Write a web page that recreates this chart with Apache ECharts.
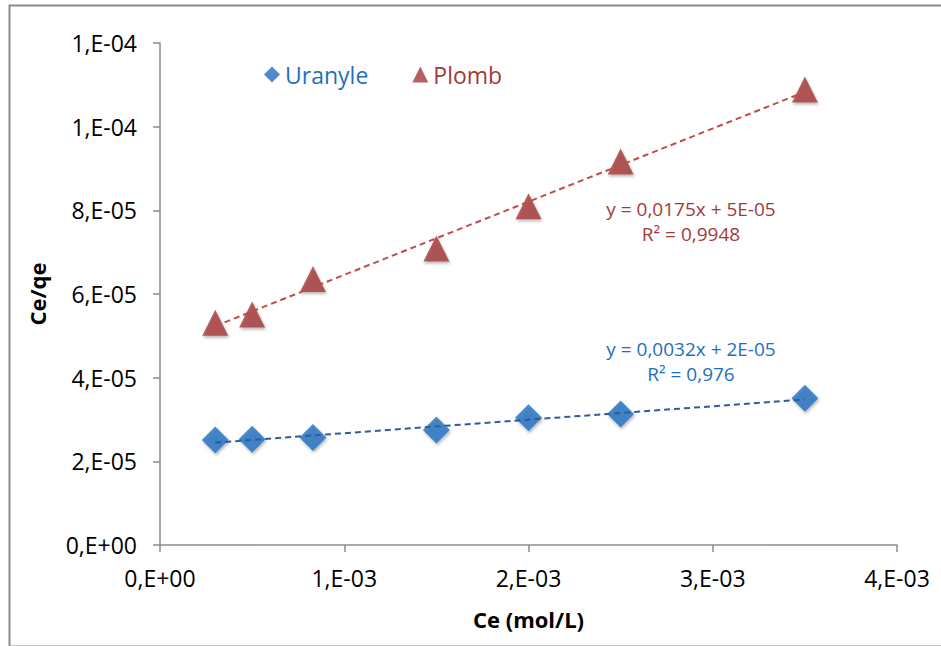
<!DOCTYPE html>
<html>
<head>
<meta charset="utf-8">
<script src="https://cdn.jsdelivr.net/npm/echarts@6/dist/echarts.min.js"></script>
<style>
  html, body { margin: 0; padding: 0; background: #fff; }
  #chart { width: 941px; height: 646px; }
</style>
</head>
<body>
<div id="chart"></div>
<script>
// Ce (mol/L) values, shared by both series
var ceValues = [0.0003, 0.0005, 0.00083, 0.0015, 0.002, 0.0025, 0.0035];
// Ce/qe values
var uranyleValues = [2.51e-5, 2.53e-5, 2.57e-5, 2.75e-5, 3.04e-5, 3.13e-5, 3.51e-5];
var plombValues = [5.31e-5, 5.51e-5, 6.36e-5, 7.09e-5, 8.10e-5, 9.17e-5, 1.089e-4];
var seriesNames = ['Uranyle', 'Plomb'];
var equationLabels = [
  ['y = 0,0032x + 2E-05', 'R² = 0,976'],
  ['y = 0,0175x + 5E-05', 'R² = 0,9948']
];

var blue = '#1f6fc1';
var red = '#a33a3a';
var font = '"Open Sans", "Noto Sans", sans-serif';

function pairs(xs, ys) {
  return xs.map(function(x, i) { return [x, ys[i]]; });
}

// least-squares trendline over the data range
function trend(xs, ys) {
  var n = xs.length, sx = 0, sy = 0, sxx = 0, sxy = 0;
  for (var i = 0; i < n; i++) {
    sx += xs[i]; sy += ys[i]; sxx += xs[i] * xs[i]; sxy += xs[i] * ys[i];
  }
  var b = (n * sxy - sx * sy) / (n * sxx - sx * sx);
  var a = (sy - b * sx) / n;
  var x0 = Math.min.apply(null, xs), x1 = Math.max.apply(null, xs);
  return [[x0, a + b * x0], [x1, a + b * x1]];
}

// Excel style "0,E+00"
function sci(v) {
  if (v === 0) return '0,E+00';
  var s = v.toExponential(0).split('e');
  var e = parseInt(s[1], 10);
  var sign = e < 0 ? '-' : '+';
  e = Math.abs(e);
  return s[0] + ',E' + sign + (e < 10 ? '0' + e : e);
}

function eqText(x, y, text, color) {
  return {
    type: 'text',
    x: x,
    y: y,
    silent: true,
    style: {
      text: text,
      fill: color,
      font: '19px ' + font,
      align: 'center',
      verticalAlign: 'middle'
    }
  };
}

var chart = echarts.init(document.getElementById('chart'), null, { renderer: 'svg' });

var shadow = { shadowBlur: 3, shadowColor: 'rgba(0,0,0,0.35)', shadowOffsetX: 1, shadowOffsetY: 2 };

chart.setOption({
  animation: false,
  backgroundColor: '#fff',
  textStyle: { fontFamily: font },
  grid: { left: 160, right: 44, top: 43, bottom: 101 },
  legend: {
    top: 58,
    left: 259,
    itemGap: 44,
    itemWidth: 16,
    itemHeight: 16,
    data: [
      { name: seriesNames[0], icon: 'diamond', textStyle: { color: blue } },
      { name: seriesNames[1], icon: 'triangle', textStyle: { color: red } }
    ],
    textStyle: { fontSize: 23, fontFamily: font }
  },
  xAxis: {
    type: 'value',
    min: 0,
    max: 0.004,
    interval: 0.001,
    name: 'Ce (mol/L)',
    nameLocation: 'middle',
    nameGap: 63,
    nameTextStyle: { color: '#000', fontSize: 22, fontWeight: 'bold' },
    axisLine: { show: true, lineStyle: { color: '#8c8c8c', width: 1.5 } },
    axisTick: { show: true, length: 7, lineStyle: { color: '#8c8c8c', width: 1.5 } },
    axisLabel: { color: '#000', fontSize: 23, margin: 21, formatter: sci },
    splitLine: { show: false }
  },
  yAxis: {
    type: 'value',
    min: 0,
    max: 0.00012,
    interval: 0.00002,
    name: 'Ce/qe',
    nameLocation: 'middle',
    nameGap: 112,
    nameRotate: 90,
    nameTextStyle: { color: '#000', fontSize: 22, fontWeight: 'bold' },
    axisLine: { show: true, lineStyle: { color: '#8c8c8c', width: 1.5 } },
    axisTick: { show: true, length: 7, lineStyle: { color: '#8c8c8c', width: 1.5 } },
    axisLabel: { color: '#000', fontSize: 23, margin: 23, formatter: sci },
    splitLine: { show: false }
  },
  series: [
    {
      name: seriesNames[0],
      type: 'scatter',
      symbol: 'diamond',
      symbolSize: 27,
      itemStyle: Object.assign({ color: blue }, shadow),
      data: pairs(ceValues, uranyleValues),
      z: 2
    },
    {
      name: seriesNames[1],
      type: 'scatter',
      symbol: 'triangle',
      symbolSize: 26,
      itemStyle: Object.assign({ color: red }, shadow),
      data: pairs(ceValues, plombValues),
      z: 2
    },
    {
      name: 'trend-uranyle',
      type: 'line',
      showSymbol: false,
      silent: true,
      lineStyle: { color: '#2e5d9c', width: 2, type: [6, 4] },
      data: trend(ceValues, uranyleValues),
      z: 3
    },
    {
      name: 'trend-plomb',
      type: 'line',
      showSymbol: false,
      silent: true,
      lineStyle: { color: '#c24b4b', width: 2, type: [6, 4] },
      data: trend(ceValues, plombValues),
      z: 3
    }
  ],
  graphic: [
    {
      type: 'rect',
      left: 7,
      top: 3,
      shape: { width: 960, height: 641 },
      style: { fill: 'none', stroke: '#8c8c8c', lineWidth: 2 },
      silent: true
    },
    eqText(691, 349, equationLabels[0][0], blue),
    eqText(691, 374, equationLabels[0][1], blue),
    eqText(691, 209, equationLabels[1][0], red),
    eqText(691, 234, equationLabels[1][1], red)
  ]
});
</script>
</body>
</html>
